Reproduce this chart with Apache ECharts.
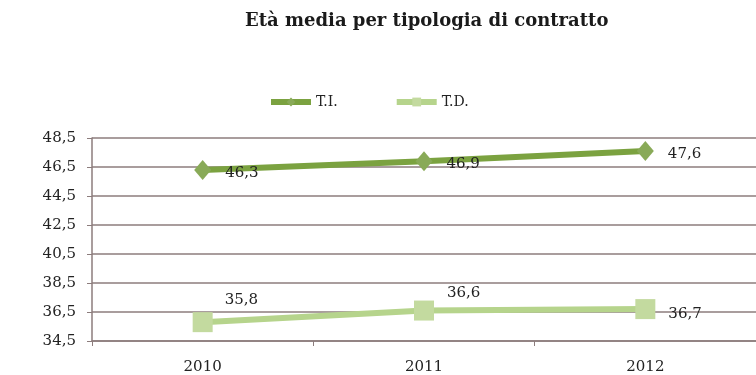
<!DOCTYPE html>
<html>
<head>
<meta charset="utf-8">
<script src="https://cdn.jsdelivr.net/npm/echarts@6/dist/echarts.min.js"></script>
<style>
  html, body { margin: 0; padding: 0; background: #ffffff; }
  #chart { width: 756px; height: 375px; }
</style>
</head>
<body>
<div id="chart"></div>
<script>
// Average age by contract type, 2010-2012
const years = ['2010', '2011', '2012'];
const tiValues = [46.3, 46.9, 47.6];   // T.I. (tempo indeterminato)
const tdValues = [35.8, 36.6, 36.7];   // T.D. (tempo determinato)
const yTicks = { min: 34.5, max: 48.5, step: 2 };

const serif = '"DejaVu Serif", "Liberation Serif", serif';
const comma = v => Number(v).toFixed(1).replace('.', ',');
const labelText = { fontFamily: serif, fontSize: 15, color: '#222' };

const chart = echarts.init(document.getElementById('chart'), null, { renderer: 'canvas' });

chart.setOption({
  backgroundColor: '#ffffff',
  animation: false,
  title: {
    text: 'Età media per tipologia di contratto',
    left: 240,
    top: 7,
    textStyle: { fontFamily: serif, fontWeight: 'bold', fontSize: 18, color: '#1a1a1a' }
  },
  legend: {
    top: 90,
    left: 263,
    itemWidth: 40,
    itemHeight: 11,
    itemGap: 56,
    lineStyle: { width: 6 },
    textStyle: { fontFamily: serif, fontSize: 14, color: '#222' },
    data: ['T.I.', 'T.D.']
  },
  grid: { left: 92, top: 138, width: 666, height: 203 },
  xAxis: {
    type: 'category',
    data: years,
    boundaryGap: true,
    axisLine: { lineStyle: { color: '#8c7c7c', width: 1.5 } },
    axisTick: { show: true, length: 5, lineStyle: { color: '#8c7c7c' } },
    axisLabel: { fontFamily: serif, fontSize: 15, color: '#222', margin: 19 }
  },
  yAxis: {
    type: 'value',
    min: yTicks.min,
    max: yTicks.max,
    interval: yTicks.step,
    axisLine: { show: true, lineStyle: { color: '#8c7c7c', width: 1.5 } },
    axisTick: { show: true, length: 5, lineStyle: { color: '#8c7c7c' } },
    splitLine: { lineStyle: { color: '#8c7c7c', width: 1.5 } },
    axisLabel: { fontFamily: serif, fontSize: 15, color: '#222', margin: 16, formatter: comma }
  },
  series: [
    {
      name: 'T.I.',
      type: 'line',
      data: tiValues,
      symbol: 'diamond',
      symbolSize: [17, 20],
      lineStyle: { color: '#7ba240', width: 6 },
      itemStyle: { color: '#89aa58' },
      label: Object.assign({
        show: true,
        position: 'right',
        distance: 14,
        offset: [0, 3],
        formatter: p => comma(p.value)
      }, labelText)
    },
    {
      name: 'T.D.',
      type: 'line',
      data: [
        { value: tdValues[0], label: { position: [32, -20] } },
        { value: tdValues[1], label: { position: [33, -15] } },
        { value: tdValues[2], label: { position: 'right', distance: 13, offset: [0, 5] } }
      ],
      symbol: 'rect',
      symbolSize: 20,
      lineStyle: { color: '#b6d48c', width: 6 },
      itemStyle: { color: '#c3da9f' },
      label: Object.assign({
        show: true,
        formatter: p => comma(p.value)
      }, labelText)
    }
  ]
});
</script>
</body>
</html>
